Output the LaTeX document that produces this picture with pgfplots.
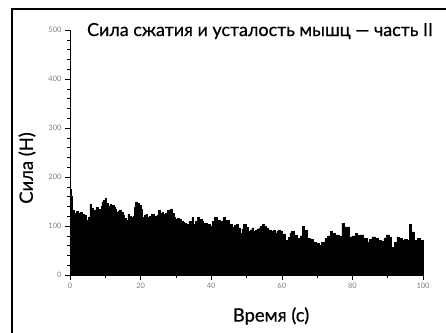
\documentclass[border=0pt]{standalone}
\usepackage{pgfplots}
\pgfplotsset{compat=1.18}
\usepackage{fontspec}
\setmainfont{Lato}
\newfontfamily\medfont{Lato}[FakeBold=0.6]
\pgfplotstableread{
t v
0 175
0.4 160
0.7 132
1.1 126
1.5 124
1.9 130
2.3 127
2.7 122
3 128
3.5 124
4 121
4.6 112
5 92
5.3 118
5.6 145
6.0 136
6.5 128
7.0 133
7.5 138
8.0 134
8.5 130
8.8 140
9 149
9.5 152
10 156
10.4 146
10.7 138
11.1 141
11.4 144
11.7 137
12 142
12.4 139
12.8 135
13.2 129
13.6 131
14.0 133
14.5 128
15.0 122
15.4 115
15.8 96
16.1 112
16.4 124
16.8 119
17.3 117
17.6 112
18 120
18.3 138
18.6 149
19.1 146
19.6 142
20.1 134
20.5 117
21.0 121
21.5 124
22.0 117
22.5 120
23.0 125
23.5 124
23.9 119
24.3 110
24.6 122
25 132
25.5 126
26 128
26.4 123
26.7 120
27.1 126
27.5 132
28.0 129
28.5 135
29.0 126
29.4 117
29.7 113
30 110
30.5 116
31 114
31.5 109
32 108
32.5 105
33 103
33.7 110
34.5 117
34.8 110
35 103
35.5 109
36 117
36.7 114
37.5 110
37.8 104
38 106
38.9 104
39.7 100
40.3 109
41 117
41.7 111
42.5 103
42.9 109
43.3 117
44.1 112
45 100
45.5 104
46 98
46.5 101
47 103
47.7 96
48.3 85
48.7 94
49.2 103
49.8 97
50.4 89
51.0 92
51.5 96
52.0 90
52.5 92
53.0 94
53.5 96
54.0 99
54.5 104
55.0 100
55.5 96
56.2 92
57 89
57.6 91
58.2 86
58.6 90
59 92
59.6 90
60.2 84
61 71
61.8 77
62.3 86
62.8 89
63.5 82
64.5 74
65.2 80
65.8 100
66.4 92
67.1 74
68.0 72
69 67
69.7 64
70.5 60
71.3 66
72.2 74
73.0 80
73.7 89
74.4 85
75.2 82
76.2 79
77 106
77.8 98
79 78
79.9 80
80.8 85
81.5 81
82.2 82
83.2 74
84.1 67
84.8 72
85.5 78
86.4 75
87.3 71
88.2 69
88.9 76
89.7 82
90.4 77
91.1 57
91.8 66
92.6 78
93.3 74
94 71
94.8 73
95.5 70
96.2 103
96.8 88
97.5 71
98.5 74
99.3 70
100 71
}\force
\begin{document}
\begin{tikzpicture}[x=1bp,y=1bp]
\path[use as bounding box] (0,0) rectangle (446,332);
\draw[line width=2.2bp] (12,-20) -- (12,323) -- (470,323);
\begin{axis}[
  at={(70bp,57bp)}, anchor=origin,
  scale only axis, width=353bp, height=245bp,
  xmin=0, xmax=100, ymin=0, ymax=500,
  axis y line=left, axis x line=bottom,
  axis line style={-, line width=0.6pt},
  xtick={0,20,...,100}, ytick={0,100,...,500},
  minor x tick num=1, minor y tick num=4,
  tick align=outside,
  major tick length=5bp, minor tick length=3bp,
  tick style={line width=0.5pt, black},
  tick label style={font=\fontsize{7.5}{8}\selectfont, text=gray},
  /pgf/number format/assume math mode=true,
  clip=false,
]
\addplot[const plot, fill=black, draw=black, line width=0.5pt] table[x=t,y=v] {\force} \closedcycle;
\end{axis}
\node[anchor=base, font=\medfont\fontsize{18}{20}\selectfont] at (260,296) {Сила сжатия и усталость мышц — часть II};
\node[rotate=90, font=\medfont\fontsize{18.5}{20}\selectfont] at (27,164) {Сила (Н)};
\node[font=\medfont\fontsize{18.5}{20}\selectfont] at (271,16) {Время (с)};
\end{tikzpicture}
\end{document}
